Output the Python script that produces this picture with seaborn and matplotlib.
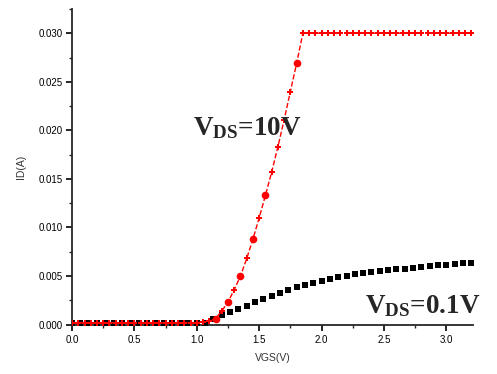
import numpy as np
import pandas as pd
import matplotlib
matplotlib.use("Agg")
import matplotlib.pyplot as plt
from matplotlib.ticker import MultipleLocator, FormatStrFormatter
import seaborn as sns

# ---- data ----
vgs_10v = np.round(np.arange(0, 65) * 0.05, 3)          # 0.00 .. 3.20 V
id_10v = ([0.0002] * 21 +
          [0.00025, 0.00035, 0.0006, 0.0014, 0.0023, 0.0036, 0.0050, 0.0068,
           0.0088, 0.0110, 0.0133, 0.0157, 0.0183, 0.0211, 0.0240, 0.0269,
           0.0300] +
          [0.0300] * 27)

vgs_01v = np.round(np.arange(0, 49) / 15.0, 4)          # 0.00 .. 3.20 V
id_01v = ([0.0002] * 17 +
          [0.0006, 0.00103, 0.0013, 0.0016, 0.0019, 0.0023, 0.0026, 0.0029,
           0.0032, 0.00355, 0.0039, 0.0041, 0.0043, 0.0045, 0.0047, 0.0049,
           0.0050, 0.0052, 0.0053, 0.0054, 0.0055, 0.0056, 0.0057, 0.0057,
           0.0058, 0.0059, 0.0060, 0.0061, 0.0061, 0.0062, 0.0063, 0.0063])

big_dot_idx = [23, 25, 27, 29, 31, 36]

label_10v = r'$\mathbf{V_{DS}}$=10V'
label_01v = r'$\mathbf{V_{DS}}$=0.1V'
x_label = 'VGS(V)'
y_label = 'ID(A)'

sns.set_style('ticks')
plt.rcParams['font.family'] = ['Liberation Sans', 'DejaVu Sans']
plt.rcParams['mathtext.fontset'] = 'custom'
plt.rcParams['mathtext.bf'] = 'Liberation Serif:bold'
plt.rcParams['mathtext.rm'] = 'Liberation Serif'

fig = plt.figure(figsize=(4.97, 3.74), dpi=100)
ax = fig.add_axes([0.145, 0.131, 0.807, 0.845])

df10 = pd.DataFrame({'VGS': vgs_10v, 'ID': id_10v})
df01 = pd.DataFrame({'VGS': vgs_01v, 'ID': id_01v})

sns.lineplot(data=df01, x='VGS', y='ID', ax=ax, color='black', marker='s',
             markersize=4.3, markeredgewidth=0, linestyle='none', zorder=3)
sns.lineplot(data=df10, x='VGS', y='ID', ax=ax, color='red', marker='P',
             markersize=4.8, markeredgewidth=0, linestyle='--', linewidth=1.0,
             dashes=(3, 1.5), zorder=4)
ax.plot(df10['VGS'], df10['ID'], linestyle='none', marker='o', color='red',
        markersize=5.5, markeredgewidth=0, markevery=big_dot_idx, zorder=5)

ax.set_xlim(0, 3.215)
ax.set_ylim(-0.00005, 0.0325)
ax.xaxis.set_major_locator(MultipleLocator(0.5))
ax.xaxis.set_minor_locator(MultipleLocator(0.25))
ax.yaxis.set_major_locator(MultipleLocator(0.005))
ax.yaxis.set_minor_locator(MultipleLocator(0.0025))
ax.xaxis.set_major_formatter(FormatStrFormatter('%.1f'))
ax.yaxis.set_major_formatter(FormatStrFormatter('%.3f'))
ax.tick_params(which='major', direction='out', length=4, width=1.2,
               labelsize=7, colors='black', pad=3)
ax.tick_params(which='minor', direction='out', length=2.5, width=1.0)
for s in ['left', 'bottom']:
    ax.spines[s].set_linewidth(1.3)
sns.despine(ax=ax)

ax.set_xlabel(x_label, fontsize=7.5, color='#333333', labelpad=6)
ax.set_ylabel(y_label, fontsize=7.5, color='#333333', labelpad=9)

fig.text(193 / 497, 1 - 135 / 374, label_10v, fontsize=19.5,
         fontfamily='Liberation Serif', fontweight='bold', ha='left', va='baseline')
fig.text(365 / 497, 1 - 313 / 374, label_01v, fontsize=19.5,
         fontfamily='Liberation Serif', fontweight='bold', ha='left', va='baseline')

fig.savefig('out.png', dpi=100)
